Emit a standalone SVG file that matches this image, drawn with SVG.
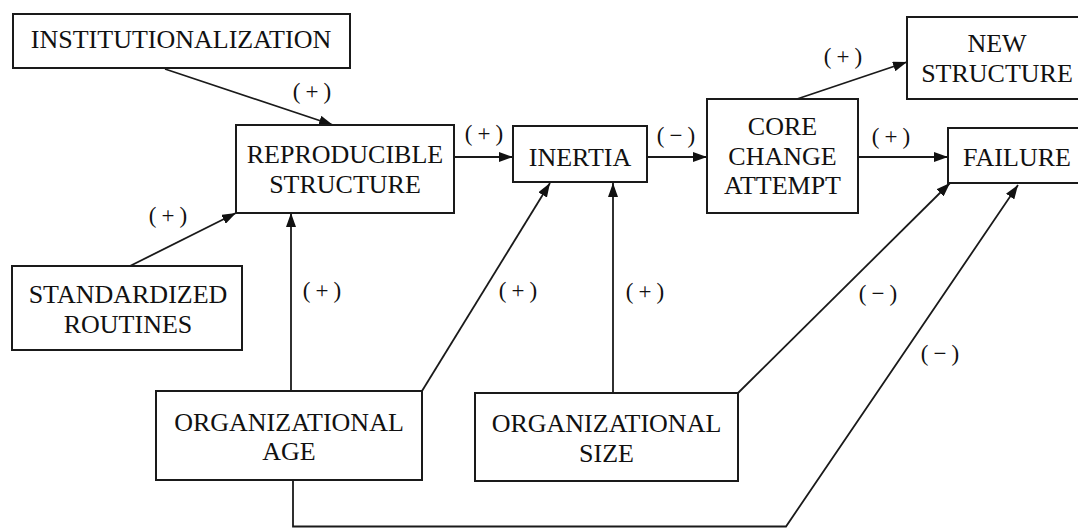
<svg xmlns="http://www.w3.org/2000/svg" width="1078" height="528" viewBox="0 0 1078 528">
<style>
.box{fill:#fff;stroke:#1a1a1a;stroke-width:2}
.t{font-family:"Liberation Serif","Times New Roman",serif;font-size:26px;fill:#111;text-anchor:middle}
.l{font-family:"Liberation Serif","Times New Roman",serif;font-size:23px;fill:#111;text-anchor:middle;letter-spacing:5px}
.c{fill:none;stroke:#1a1a1a;stroke-width:1.8}
</style>
<defs>
<marker id="ah" markerUnits="userSpaceOnUse" markerWidth="15" markerHeight="10" refX="14" refY="5" orient="auto">
<path d="M0,0 L14,5 L0,10 z" fill="#111"/>
</marker>
</defs>
<rect width="1078" height="528" fill="#fff"/>
<g id="connectors">
<path class="c" d="M165,69 L333,125" marker-end="url(#ah)"/>
<path class="c" d="M130,266 L236,213" marker-end="url(#ah)"/>
<path class="c" d="M454,157 L513,157" marker-end="url(#ah)"/>
<path class="c" d="M647,157 L707,157" marker-end="url(#ah)"/>
<path class="c" d="M797,99 L907,62" marker-end="url(#ah)"/>
<path class="c" d="M858,157 L948,157" marker-end="url(#ah)"/>
<path class="c" d="M291,391 L291,213" marker-end="url(#ah)"/>
<path class="c" d="M422,391 L550,183" marker-end="url(#ah)"/>
<path class="c" d="M613,393 L613,183" marker-end="url(#ah)"/>
<path class="c" d="M738,393 L950,183" marker-end="url(#ah)"/>
<path class="c" d="M293,480 V526.5 H786 L1018,185" marker-end="url(#ah)"/>
<text class="l" x="314.5" y="99">(+)</text>
<text class="l" x="486.5" y="141">(+)</text>
<text class="l" x="678.5" y="143">(−)</text>
<text class="l" x="845.5" y="64">(+)</text>
<text class="l" x="893.5" y="144">(+)</text>
<text class="l" x="170.5" y="223">(+)</text>
<text class="l" x="324.5" y="298">(+)</text>
<text class="l" x="520.5" y="298">(+)</text>
<text class="l" x="647.5" y="299">(+)</text>
<text class="l" x="880.5" y="301">(−)</text>
<text class="l" x="942.5" y="361">(−)</text>
</g>
<g id="institutionalization">
<rect class="box" x="13" y="14" width="337" height="54"/>
<text class="t" x="181" y="48">INSTITUTIONALIZATION</text>
</g>
<g id="reproducible-structure">
<rect class="box" x="236" y="125" width="218" height="88"/>
<text class="t" x="345" y="163">REPRODUCIBLE</text>
<text class="t" x="345" y="193">STRUCTURE</text>
</g>
<g id="inertia">
<rect class="box" x="513" y="126" width="134" height="56"/>
<text class="t" x="580" y="166">INERTIA</text>
</g>
<g id="core-change-attempt">
<rect class="box" x="707" y="99" width="151" height="114"/>
<text class="t" x="782.5" y="135">CORE</text>
<text class="t" x="782.5" y="165">CHANGE</text>
<text class="t" x="782.5" y="194">ATTEMPT</text>
</g>
<g id="new-structure">
<path class="box" d="M1078,17 H907 V99 H1078"/>
<text class="t" x="997" y="52">NEW</text>
<text class="t" x="997" y="82">STRUCTURE</text>
</g>
<g id="failure">
<path class="box" d="M1078,128 H948 V183 H1078"/>
<text class="t" x="1017" y="166">FAILURE</text>
</g>
<g id="standardized-routines">
<rect class="box" x="12" y="266" width="230" height="84"/>
<text class="t" x="128" y="303">STANDARDIZED</text>
<text class="t" x="128" y="333">ROUTINES</text>
</g>
<g id="organizational-age">
<rect class="box" x="156" y="391" width="266" height="89"/>
<text class="t" x="289" y="431">ORGANIZATIONAL</text>
<text class="t" x="289" y="460">AGE</text>
</g>
<g id="organizational-size">
<rect class="box" x="475" y="393" width="263" height="88"/>
<text class="t" x="606.5" y="432">ORGANIZATIONAL</text>
<text class="t" x="606.5" y="462">SIZE</text>
</g>
</svg>
